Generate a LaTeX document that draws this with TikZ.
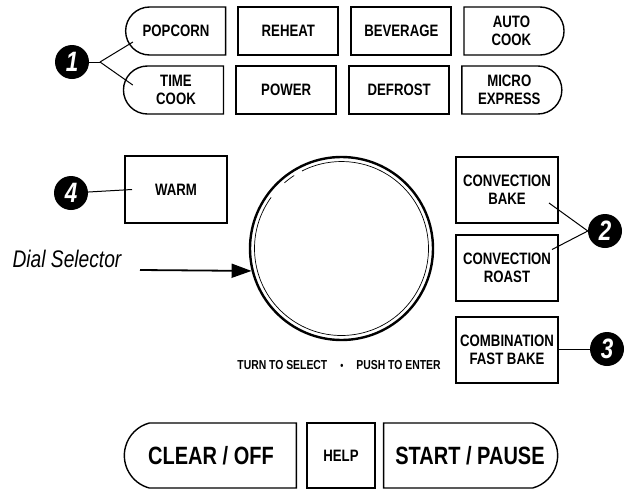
\documentclass[tikz,border=0pt]{standalone}
\usepackage{fontspec}
\newfontfamily\panelfont[FakeStretch=0.8]{Liberation Sans}
\usetikzlibrary{positioning}
\usetikzlibrary{shapes.misc}
\usetikzlibrary{arrows.meta}
\tikzstyle{key} = [rectangle, draw=black, line width=2pt, minimum width=100pt,
minimum height=48pt, inner sep=0pt, align=center,
font=\panelfont\bfseries\fontsize{16.5}{18}\selectfont]
\tikzstyle{lkey} = [key, rounded rectangle, rounded rectangle right arc=none, line width=1.4pt]
\tikzstyle{rkey} = [key, rounded rectangle, rounded rectangle left arc=none, line width=1.4pt]
\tikzstyle{tallkey} = [key, minimum width=102pt, minimum height=66pt]
\tikzstyle{bigfont} = [minimum height=65pt, font=\panelfont\bfseries\fontsize{25}{25}\selectfont]
\tikzstyle{badge} = [circle, fill=black, minimum size=34pt, inner sep=0pt, text=white,
font=\panelfont\bfseries\itshape\fontsize{28}{28}\selectfont]
\tikzstyle{leader} = [line width=1pt]
\newcommand{\lead}[3][]{ %
  % Connect the joint #2 to all points #3.
  \foreach \y in {#3} { %
    \draw[leader,#1] (#2) -- (\y) ;%
  } ;
}
\begin{document}
\begin{tikzpicture}[x=1pt, y=-1pt]
\useasboundingbox (0,0) rectangle (625,491);

        % top keys
        \node[lkey] (pop) at (176,31) {POPCORN} ;
        \node[key, right=11pt of pop] (reh) {REHEAT} ; %
        \node[key, right=11pt of reh] (bev) {BEVERAGE} ; %
        \node[rkey, right=11pt of bev] (auto) {AUTO\\COOK} ; %

        \node[lkey] (time) at (176,90) {TIME\\COOK} ;
        \node[key, right=11pt of time] (pow) {POWER} ; %
        \node[key, right=11pt of pow] (def) {DEFROST} ; %
        \node[rkey, right=11pt of def] (micro) {MICRO\\EXPRESS} ; %

        % dial
        \node[circle, draw, line width=2.4pt, minimum size=183pt, inner sep=0pt] (dial) at (341.5,248.5) {} ;
        \draw[line width=.7pt] (dial.center) ++(144:87pt) arc[start angle=144, end angle=477, radius=87pt] ;
        \draw[line width=.7pt] (dial.center) ++(123:87pt) arc[start angle=123, end angle=131, radius=87pt] ;
        \node[font=\panelfont\bfseries\fontsize{13}{13}\selectfont] (hint) at (339,365)
          {TURN TO SELECT\quad{\fontsize{11}{11}\selectfont\textbullet}\quad PUSH TO ENTER} ;

        \node[font=\panelfont\itshape\fontsize{24}{24}\selectfont] (dsel) at (67,259) {Dial Selector} ;
        \coordinate (dtail) at (140,270) ;

        % side keys
        \node[tallkey, minimum height=67pt] (warm) at (176,189.5) {WARM} ;
        \node[tallkey] (cbake) at (507,190) {CONVECTION\\BAKE} ;
        \node[tallkey, below=10pt of cbake] (croast) {CONVECTION\\ROAST} ; %
        \node[tallkey, below=14pt of croast] (comb) {COMBINATION\\FAST BAKE} ; %

        % bottom keys
        \node[lkey, bigfont, minimum width=172pt, rounded rectangle arc length=150] (clr) at (211,455.5) {CLEAR / OFF} ;
        \node[key, minimum width=68pt, minimum height=65pt] (help) at (341,455.5) {HELP} ;
        \node[rkey, bigfont, minimum width=174pt, rounded rectangle arc length=150] (start) at (470,455.5) {START / PAUSE} ;

        % badges
        \node[badge] (b1) at (72,62) {1} ;
        \node[badge] (b4) at (71,193) {4} ;
        \node[badge] (b2) at (605,231) {2} ;
        \node[badge] (b3) at (607,349) {3} ;

        % leader ends inside the keys
        \coordinate (j1) at (100,62) ;
        \coordinate (tpop) at ([shift={(8pt,-11pt)}]pop.west) ;
        \coordinate (ttime) at ([shift={(10pt,5pt)}]time.west) ;
        \coordinate (tbake) at ([shift={(-10pt,-13pt)}]cbake.east) ;
        \coordinate (troast) at ([shift={(-7pt,18.5pt)}]croast.east) ;

        \draw[leader] (b1) -- (j1) ;
        \lead {j1} {tpop, ttime} ;
        \lead {b2.west} {tbake, troast} ;
        \draw[leader] (b4) -- ([xshift=8pt]warm.west) ;
        \draw[leader] (b3) -- (b3 -| comb.east) ;

        \draw[line width=1.8pt, -{Triangle[length=20pt, width=14pt]}] (dtail) -- (dial.194) ;
\end{tikzpicture}
\end{document}
